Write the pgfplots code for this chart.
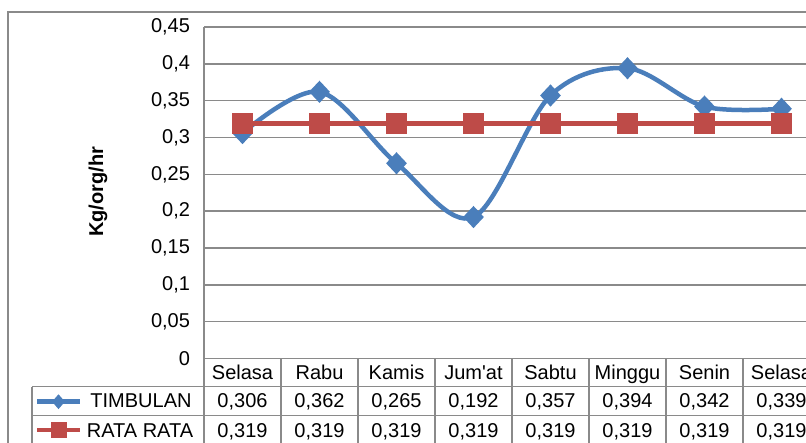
\documentclass[border=0pt]{standalone}
\usepackage{pgfplots}
\pgfplotsset{compat=1.18}
\usetikzlibrary{shapes.geometric}
\usepackage{fontspec}
\setmainfont{Liberation Sans}

\definecolor{timb}{HTML}{4A7EBB}
\definecolor{rata}{HTML}{BE4B48}
\definecolor{gridc}{HTML}{8A8A8A}

\newcommand{\fs}{\fontsize{20}{24}\selectfont}

\begin{document}
\begin{tikzpicture}[x=1pt,y=1pt]
\useasboundingbox (0,0) rectangle (806,443);
\clip (0,0) rectangle (806,443);

% chart frame
\draw[gridc, line width=2pt] (7.5,-5) -- (7.5,431) -- (815,431);

\begin{axis}[
    at={(204pt,84.5pt)}, anchor=south west,
    scale only axis, width=616pt, height=331.5pt,
    xmin=-0.5, xmax=7.5, ymin=0, ymax=0.45,
    xtick=\empty,
    ytick={0,0.05,0.1,0.15,0.2,0.25,0.3,0.35,0.4,0.45},
    yticklabels={0,{0,05},{0,1},{0,15},{0,2},{0,25},{0,3},{0,35},{0,4},{0,45}},
    scaled y ticks=false,
    ymajorgrids,
    grid style={gridc, line width=1.5pt},
    axis line style={draw=none},
    major tick length=0pt,
    tick label style={font=\fs},
    yticklabel style={xshift=-10.5pt},
    clip=false,
]
\addplot[timb, line width=4.5pt, smooth, tension=0.55,
    mark=diamond*, mark size=7.8pt, mark options={xscale=1.25, solid}]
  coordinates {(0,0.306) (1,0.362) (2,0.265) (3,0.192) (4,0.357) (5,0.394) (6,0.342) (7,0.339)};
\addplot[rata, line width=4.2pt, mark=square*, mark size=8pt]
  coordinates {(0,0.319) (1,0.319) (2,0.319) (3,0.319) (4,0.319) (5,0.319) (6,0.319) (7,0.319)};
\end{axis}

% y axis line
\draw[gridc, line width=1.5pt] (204,416) -- (204,-5);

% data table grid
\foreach \k in {1,...,8} \draw[gridc, line width=1.5pt] ({204+77*\k},84.5) -- ({204+77*\k},-5);
\draw[gridc, line width=1.5pt] (204,84.5) -- (815,84.5);
\draw[gridc, line width=1.5pt] (32,56.3) -- (815,56.3);
\draw[gridc, line width=1.5pt] (32,27.5) -- (815,27.5);
\draw[gridc, line width=1.5pt] (32,56.3) -- (32,-5);

% table contents
\foreach \i/\c/\a/\b in {0/Selasa/{0,306}/{0,319}, 1/Rabu/{0,362}/{0,319},
    2/Kamis/{0,265}/{0,319}, 3/Jum\textquotesingle at/{0,192}/{0,319}, 4/Sabtu/{0,357}/{0,319},
    5/Minggu/{0,394}/{0,319}, 6/Senin/{0,342}/{0,319}, 7/Selasa/{0,339}/{0,319}} {
  \node[font=\fs, anchor=base, inner sep=0pt] at ({204+77*(\i+0.5)},63.7) {\c};
  \node[font=\fs, anchor=base, inner sep=0pt] at ({204+77*(\i+0.5)},35.7) {\a};
  \node[font=\fs, anchor=base, inner sep=0pt] at ({204+77*(\i+0.5)},5.9) {\b};
}

% legend keys
\draw[timb, line width=4.5pt] (37,41.3) -- (80,41.3);
\node[timb, fill=timb, diamond, inner sep=0pt, minimum width=13pt, minimum height=15pt] at (58.5,41.3) {};
\draw[rata, line width=4.2pt] (37,13) -- (80,13);
\node[rata, fill=rata, rectangle, inner sep=0pt, minimum size=16pt] at (58.5,13) {};
\node[font=\fs, anchor=base, inner sep=0pt] at (141,35.7) {TIMBULAN};
\node[font=\fs, anchor=base, inner sep=0pt] at (140,5.9) {RATA RATA};

% y label
\node[font=\fs\bfseries, rotate=90, inner sep=0pt] at (98,251) {Kg/org/hr};
\end{tikzpicture}
\end{document}
